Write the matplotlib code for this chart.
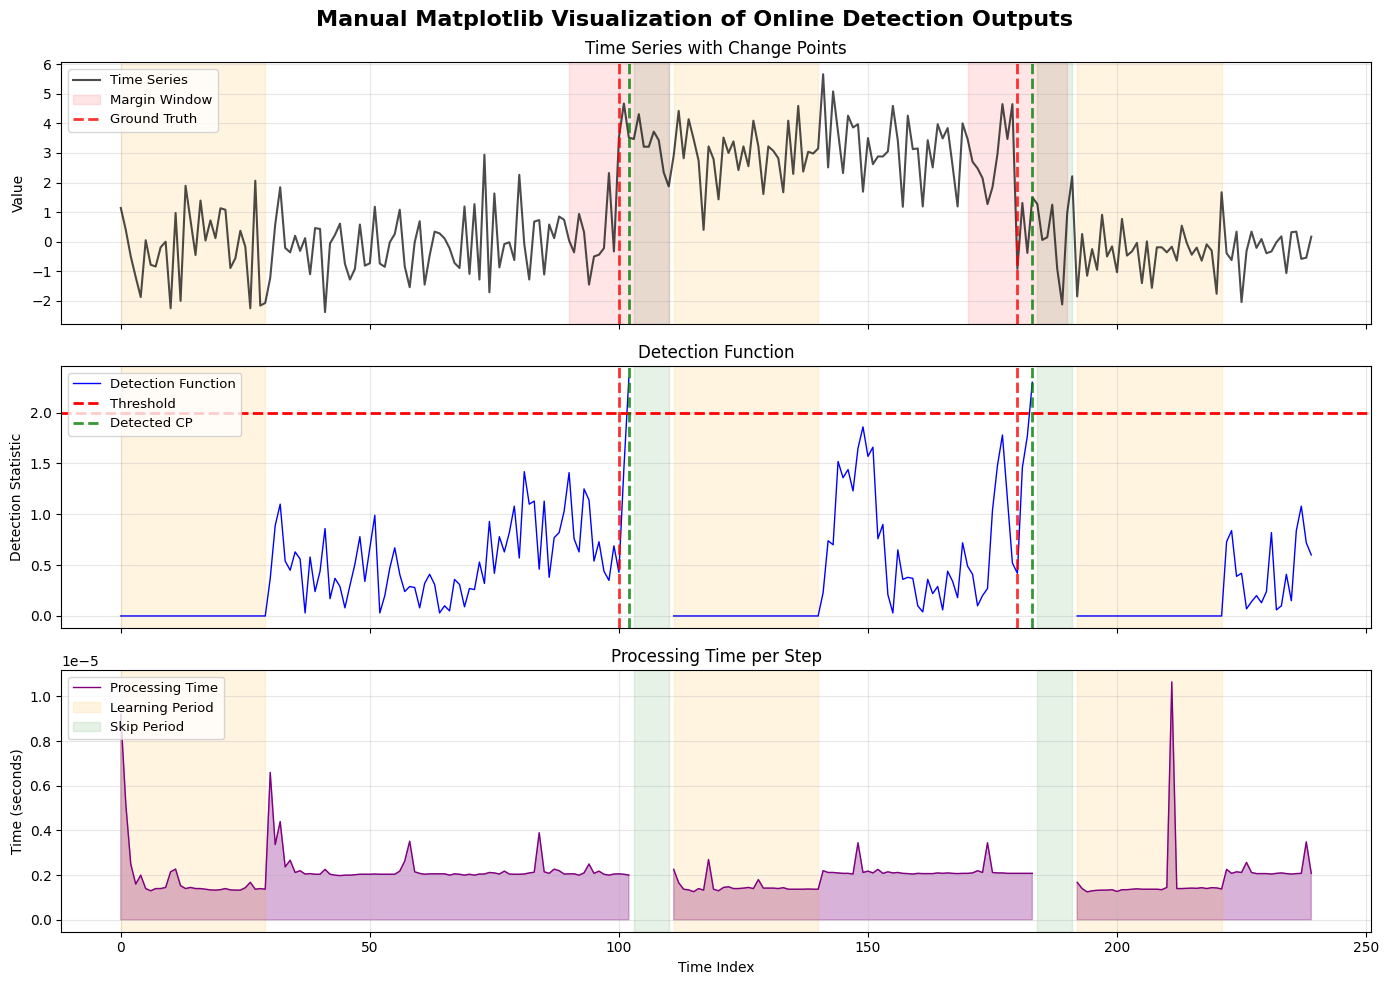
import numpy as np
import matplotlib
matplotlib.use("Agg")
import matplotlib.pyplot as plt

nan = np.nan

# --- data ---
time_series = [
    1.14, 0.40, -0.50, -1.20, -1.87, 0.05, -0.78, -0.84, -0.19, 0.00,
    -2.25, 0.97, -2.00, 1.89, 0.71, -0.45, 1.39, 0.04, 0.72, 0.12,
    1.13, 1.08, -0.89, -0.56, 0.37, -0.17, -2.25, 2.06, -2.16, -2.07,
    -1.22, 0.58, 1.84, -0.21, -0.36, 0.20, -0.31, 0.12, -1.10, 0.46,
    0.43, -2.38, -0.06, 0.23, 0.61, -0.75, -1.28, -0.92, 0.58, -0.81,
    -0.73, 1.18, -0.74, -0.85, -0.02, 0.26, 1.08, -0.83, -1.54, -0.02,
    0.69, -1.45, -0.47, 0.34, 0.28, 0.11, -0.22, -0.72, -0.89, 1.19,
    -1.09, 1.27, -1.28, 2.94, -1.71, 1.63, -0.87, -0.08, -0.02, -0.62,
    2.26, -0.08, -1.28, 0.68, 0.73, -1.11, 0.58, 0.12, 0.85, 0.74,
    0.04, -0.36, 0.94, 0.32, -1.45, -0.50, -0.44, -0.22, 2.32, -0.33,
    3.52, 4.67, 3.52, 3.47, 4.31, 3.21, 3.21, 3.72, 3.43, 2.34,
    1.87, 2.91, 4.42, 2.82, 4.14, 3.47, 2.74, 0.40, 3.22, 2.79,
    1.43, 3.52, 3.00, 3.39, 2.42, 3.22, 2.55, 4.09, 3.22, 1.61,
    3.22, 3.07, 2.82, 1.67, 4.09, 2.29, 4.59, 2.37, 3.04, 2.98,
    3.15, 5.66, 2.51, 5.08, 3.70, 2.32, 4.26, 3.86, 3.97, 1.69,
    3.50, 2.62, 2.88, 2.88, 3.05, 4.59, 3.41, 1.18, 4.26, 3.13,
    3.15, 1.19, 3.43, 2.51, 3.97, 3.49, 3.84, 2.55, 1.19, 4.00,
    3.47, 2.70, 2.48, 2.15, 1.27, 1.84, 2.96, 4.65, 3.47, 4.65,
    -0.92, 1.31, -0.38, 1.50, 1.27, 0.06, 0.15, 1.25, -0.92, -2.12,
    0.97, 2.21, -1.85, 0.26, -1.15, -0.25, -0.95, 0.91, -0.50, -0.16,
    -1.03, 0.77, -0.47, -0.33, -0.04, -1.40, 0.01, -1.56, -0.19, -0.19,
    -0.36, -0.17, -0.64, 0.54, -0.04, -0.44, -0.20, -0.64, -0.09, -0.30,
    -1.76, 1.67, -0.39, -0.62, 0.34, -2.04, -0.32, 0.34, -0.21, 0.09,
    -0.39, -0.33, -0.02, 0.18, -1.06, 0.32, 0.34, -0.58, -0.54, 0.17,
]

detection = (
    [0.0] * 30
    + [0.37, 0.89, 1.10, 0.54, 0.45, 0.63, 0.56, 0.03, 0.58, 0.24,
       0.44, 0.86, 0.17, 0.37, 0.29, 0.08, 0.30, 0.51, 0.78, 0.34,
       0.67, 0.99, 0.03, 0.20, 0.47, 0.67, 0.41, 0.24, 0.29, 0.28,
       0.08, 0.32, 0.41, 0.31, 0.03, 0.10, 0.05, 0.36, 0.31, 0.09,
       0.27, 0.26, 0.53, 0.32, 0.93, 0.42, 0.78, 0.63, 0.82, 1.08,
       0.57, 1.42, 1.10, 1.13, 0.46, 1.13, 0.38, 0.77, 0.82, 1.03,
       1.41, 0.76, 0.63, 1.25, 1.14, 0.54, 0.73, 0.44, 0.35, 0.69,
       0.43, 1.45, 2.34]
    + [nan] * 8
    + [0.0] * 30
    + [0.23, 0.74, 0.70, 1.52, 1.36, 1.44, 1.23, 1.65, 1.86, 1.57,
       1.66, 0.76, 0.90, 0.21, 0.03, 0.65, 0.36, 0.38, 0.37, 0.10,
       0.04, 0.36, 0.22, 0.29, 0.06, 0.44, 0.34, 0.18, 0.72, 0.49,
       0.41, 0.10, 0.20, 0.27, 1.04, 1.48, 1.78, 1.15, 0.52, 0.42,
       1.46, 1.77, 2.30]
    + [nan] * 8
    + [0.0] * 30
    + [0.73, 0.84, 0.39, 0.42, 0.07, 0.14, 0.20, 0.13, 0.24, 0.82,
       0.06, 0.10, 0.41, 0.15, 0.84, 1.08, 0.72, 0.60]
)

# processing time in units of 1e-5 s
proc_time_e5 = (
    [0.92, 0.52, 0.25, 0.16, 0.20, 0.14, 0.13, 0.14, 0.14, 0.145,
     0.215, 0.227, 0.153, 0.14, 0.145, 0.14, 0.14, 0.137, 0.134, 0.133,
     0.135, 0.14, 0.134, 0.133, 0.133, 0.144, 0.168, 0.137, 0.14, 0.137,
     0.66, 0.337, 0.44, 0.237, 0.267, 0.212, 0.22, 0.205, 0.207, 0.204,
     0.204, 0.226, 0.204, 0.20, 0.198, 0.20, 0.20, 0.202, 0.204, 0.204,
     0.204, 0.205, 0.204, 0.204, 0.204, 0.204, 0.218, 0.263, 0.352, 0.215,
     0.208, 0.204, 0.206, 0.206, 0.206, 0.206, 0.200, 0.206, 0.204, 0.200,
     0.204, 0.200, 0.205, 0.205, 0.212, 0.210, 0.205, 0.218, 0.205, 0.204,
     0.204, 0.205, 0.210, 0.213, 0.39, 0.215, 0.208, 0.227, 0.22, 0.205,
     0.206, 0.206, 0.20, 0.21, 0.25, 0.208, 0.218, 0.204, 0.20, 0.205,
     0.206, 0.204, 0.20]
    + [nan] * 8
    + [0.226, 0.166, 0.137, 0.134, 0.126, 0.14, 0.133, 0.27, 0.137, 0.13,
       0.145, 0.148, 0.14, 0.14, 0.142, 0.145, 0.14, 0.18, 0.142, 0.142,
       0.142, 0.14, 0.144, 0.137, 0.137, 0.137, 0.137, 0.138, 0.137, 0.137,
       0.22, 0.212, 0.212, 0.210, 0.208, 0.208, 0.205, 0.345, 0.212, 0.218,
       0.210, 0.226, 0.208, 0.215, 0.210, 0.212, 0.208, 0.207, 0.205, 0.208,
       0.207, 0.207, 0.207, 0.210, 0.208, 0.210, 0.208, 0.207, 0.208, 0.208,
       0.210, 0.22, 0.212, 0.345, 0.212, 0.210, 0.210, 0.208, 0.208, 0.208,
       0.208, 0.208, 0.208]
    + [nan] * 8
    + [0.168, 0.14, 0.125, 0.13, 0.132, 0.133, 0.133, 0.135, 0.127, 0.135,
       0.135, 0.137, 0.139, 0.137, 0.137, 0.137, 0.137, 0.135, 0.145, 1.065,
       0.14, 0.14, 0.141, 0.142, 0.141, 0.144, 0.14, 0.144, 0.143, 0.138,
       0.226, 0.208, 0.215, 0.212, 0.257, 0.212, 0.207, 0.207, 0.207, 0.205,
       0.208, 0.210, 0.207, 0.205, 0.207, 0.208, 0.349, 0.208]
)

ground_truth = [100, 180]
detected_cps = [102, 183]
margin = 10
learning_periods = [(0, 29), (111, 140), (192, 221)]
skip_periods = [(103, 110), (184, 191)]
threshold = 2.0

t = np.arange(len(time_series))
proc_time = np.array(proc_time_e5) * 1e-5
detection = np.array(detection)

fig, axes = plt.subplots(3, 1, figsize=(14, 10), dpi=100, sharex=True)
ax1, ax2, ax3 = axes


def shade_periods(ax, with_labels=False):
    for i, (s, e) in enumerate(learning_periods):
        ax.axvspan(s, e, color='orange', alpha=0.12,
                   label='Learning Period' if (with_labels and i == 0) else None)
    for i, (s, e) in enumerate(skip_periods):
        ax.axvspan(s, e, color='green', alpha=0.1,
                   label='Skip Period' if (with_labels and i == 0) else None)


# Top: time series
shade_periods(ax1)
ax1.plot(t, time_series, color='black', alpha=0.7, linewidth=1.5, label='Time Series')
for i, gt in enumerate(ground_truth):
    ax1.axvspan(gt - margin, gt + margin, color='red', alpha=0.1,
                label='Margin Window' if i == 0 else None)
    ax1.axvline(gt, color='red', linestyle='--', linewidth=2, alpha=0.8,
                label='Ground Truth' if i == 0 else None)
for cp in detected_cps:
    ax1.axvline(cp, color='green', linestyle='--', linewidth=2, alpha=0.8)
ax1.set_title('Time Series with Change Points')
ax1.set_ylabel('Value')
ax1.legend(loc='upper left', fontsize=9.5)
ax1.grid(True, alpha=0.3)

# Middle: detection function
shade_periods(ax2)
ax2.plot(t, detection, color='blue', linewidth=1, label='Detection Function')
ax2.axhline(threshold, color='red', linestyle='--', linewidth=2, label='Threshold')
for gt in ground_truth:
    ax2.axvline(gt, color='red', linestyle='--', linewidth=2, alpha=0.8)
for i, cp in enumerate(detected_cps):
    ax2.axvline(cp, color='green', linestyle='--', linewidth=2, alpha=0.8,
                label='Detected CP' if i == 0 else None)
ax2.set_title('Detection Function')
ax2.set_ylabel('Detection Statistic')
ax2.legend(loc='upper left', fontsize=9.5)
ax2.grid(True, alpha=0.3)

# Bottom: processing time
ax3.plot(t, proc_time, color='purple', linewidth=1, label='Processing Time')
ax3.fill_between(t, 0, proc_time, color='purple', alpha=0.3)
shade_periods(ax3, with_labels=True)
ax3.set_title('Processing Time per Step')
ax3.set_ylabel('Time (seconds)')
ax3.set_xlabel('Time Index')
ax3.legend(loc='upper left', fontsize=9.5)
ax3.grid(True, alpha=0.3)

fig.suptitle('Manual Matplotlib Visualization of Online Detection Outputs',
             fontsize=16, fontweight='bold')
plt.tight_layout()
plt.savefig('out.png', dpi=100, bbox_inches='tight')
